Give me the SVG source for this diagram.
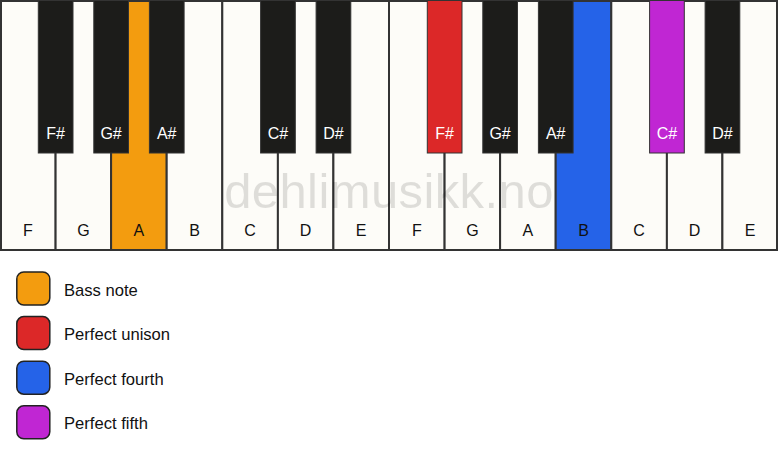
<svg xmlns="http://www.w3.org/2000/svg" width="778" height="461" viewBox="0 0 778 461">
<style>
.w{fill:#fdfcf8;stroke:#333;stroke-width:2}
.b{fill:#1c1c1a;stroke:#333;stroke-width:1}
.wl{font-family:"Liberation Sans",Arial,sans-serif;font-size:16px;fill:#111;text-anchor:middle}
.bl{font-family:"Liberation Sans",Arial,sans-serif;font-size:16px;fill:#fff;text-anchor:middle}
.lg{stroke:#222;stroke-width:1.5}
.lt{font-family:"Liberation Sans",Arial,sans-serif;font-size:16.6px;fill:#111}
</style>
<rect width="778" height="461" fill="#ffffff"/>
<g id="white-keys">
<g id="wk-F1"><rect class="w" x="1" y="1" width="54.6" height="249"/><text class="wl" x="27.8" y="236">F</text></g>
<g id="wk-G1"><rect class="w" x="55.6" y="1" width="55.5" height="249"/><text class="wl" x="83.4" y="236">G</text></g>
<g id="wk-A1"><rect class="w" x="111.1" y="1" width="55.6" height="249" style="fill:#f39c0f"/><text class="wl" x="138.9" y="236">A</text></g>
<g id="wk-B1"><rect class="w" x="166.7" y="1" width="55.6" height="249"/><text class="wl" x="194.5" y="236">B</text></g>
<g id="wk-C1"><rect class="w" x="222.3" y="1" width="55.6" height="249"/><text class="wl" x="250.1" y="236">C</text></g>
<g id="wk-D1"><rect class="w" x="277.9" y="1" width="55.5" height="249"/><text class="wl" x="305.6" y="236">D</text></g>
<g id="wk-E1"><rect class="w" x="333.4" y="1" width="55.6" height="249"/><text class="wl" x="361.2" y="236">E</text></g>
<g id="wk-F2"><rect class="w" x="389" y="1" width="55.6" height="249"/><text class="wl" x="416.8" y="236">F</text></g>
<g id="wk-G2"><rect class="w" x="444.6" y="1" width="55.5" height="249"/><text class="wl" x="472.4" y="236">G</text></g>
<g id="wk-A2"><rect class="w" x="500.1" y="1" width="55.6" height="249"/><text class="wl" x="527.9" y="236">A</text></g>
<g id="wk-B2"><rect class="w" x="555.7" y="1" width="55.6" height="249" style="fill:#2563e8"/><text class="wl" x="583.5" y="236">B</text></g>
<g id="wk-C2"><rect class="w" x="611.3" y="1" width="55.6" height="249"/><text class="wl" x="639.1" y="236">C</text></g>
<g id="wk-D2"><rect class="w" x="666.9" y="1" width="55.5" height="249"/><text class="wl" x="694.6" y="236">D</text></g>
<g id="wk-E2"><rect class="w" x="722.4" y="1" width="54.6" height="249"/><text class="wl" x="750" y="236">E</text></g>
</g>
<text x="389" y="208" font-family="'Liberation Sans',Arial,sans-serif" font-size="49" letter-spacing="0.4" text-anchor="middle" fill="#000" fill-opacity="0.12">dehlimusikk.no</text>
<g id="black-keys">
<g id="bk-Fs1"><rect class="b" x="38.3" y="0.5" width="34.7" height="152.5"/><text class="bl" x="55.6" y="139">F#</text></g>
<g id="bk-Gs1"><rect class="b" x="93.8" y="0.5" width="34.7" height="152.5"/><text class="bl" x="111.1" y="139">G#</text></g>
<g id="bk-As1"><rect class="b" x="149.4" y="0.5" width="34.7" height="152.5"/><text class="bl" x="166.7" y="139">A#</text></g>
<g id="bk-Cs1"><rect class="b" x="260.6" y="0.5" width="34.7" height="152.5"/><text class="bl" x="277.9" y="139">C#</text></g>
<g id="bk-Ds1"><rect class="b" x="316.1" y="0.5" width="34.7" height="152.5"/><text class="bl" x="333.4" y="139">D#</text></g>
<g id="bk-Fs2"><rect class="b" x="427.3" y="0.5" width="34.7" height="152.5" style="fill:#dc2828"/><text class="bl" x="444.6" y="139">F#</text></g>
<g id="bk-Gs2"><rect class="b" x="482.8" y="0.5" width="34.7" height="152.5"/><text class="bl" x="500.1" y="139">G#</text></g>
<g id="bk-As2"><rect class="b" x="538.4" y="0.5" width="34.7" height="152.5"/><text class="bl" x="555.7" y="139">A#</text></g>
<g id="bk-Cs2"><rect class="b" x="649.6" y="0.5" width="34.7" height="152.5" style="fill:#c026d3"/><text class="bl" x="666.9" y="139">C#</text></g>
<g id="bk-Ds2"><rect class="b" x="705.1" y="0.5" width="34.7" height="152.5"/><text class="bl" x="722.4" y="139">D#</text></g>
</g>
<g id="legend">
<g id="lg-bass"><rect class="lg" x="16.8" y="272" width="33" height="33" rx="7" fill="#f39c0f"/><text class="lt" x="64" y="295.5">Bass note</text></g>
<g id="lg-unison"><rect class="lg" x="16.8" y="316.6" width="33" height="33" rx="7" fill="#dc2828"/><text class="lt" x="64" y="340">Perfect unison</text></g>
<g id="lg-fourth"><rect class="lg" x="16.8" y="361.2" width="33" height="33" rx="7" fill="#2563e8"/><text class="lt" x="64" y="384.6">Perfect fourth</text></g>
<g id="lg-fifth"><rect class="lg" x="16.8" y="405.8" width="33" height="33" rx="7" fill="#c026d3"/><text class="lt" x="64" y="429.2">Perfect fifth</text></g>
</g>
</svg>
